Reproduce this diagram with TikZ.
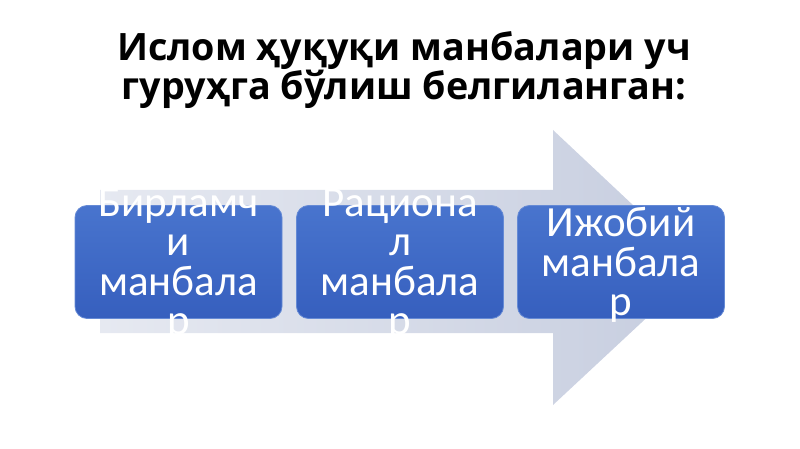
\documentclass[tikz,border=0pt]{standalone}
\usepackage{fontspec}
\setmainfont{Open Sans}
\newfontfamily\boxfont{Carlito}

\definecolor{arrowlight}{HTML}{E6E9F1}
\definecolor{arrowdark}{HTML}{C6CDDF}
\definecolor{srcblue}{HTML}{3F6DCB}
\definecolor{srcblueb}{HTML}{365FBE}

\tikzset{
  srcbox/.style={rounded corners=12pt, top color=srcblue!95!white, bottom color=srcblueb,
    draw=srcblue!80!white, line width=0.8pt, minimum width=207pt, minimum height=113pt},
  srctext/.style={text=white, align=center, font=\boxfont\fontsize{43}{39.5}\selectfont},
}

\begin{document}
\begin{tikzpicture}[x=1pt, y=-1pt]
  \useasboundingbox (0,0) rectangle (800,449);

  \node[font=\bfseries\fontsize{37.7}{37}\selectfont, align=center] (title) at (404,70)
    {Ислом ҳуқуқи манбалари уч\\гуруҳга бўлиш белгиланган:};

  % big arrow behind the boxes
  \shade[left color=arrowlight, right color=arrowdark]
    (100,190) -- (553,190) -- (553,130) -- (700,268) -- (553,405) -- (553,333) -- (100,333) -- cycle;

  \node[srcbox] (b1) at (178.5,262) {};
  \node[srcbox] (b2) at (400,262) {};
  \node[srcbox] (b3) at (621,262) {};

  \node[srctext] (t1) at ([yshift=-3pt]b1.center) {Бирламч\\и\\манбала\\р};
  \node[srctext] (t2) at ([yshift=-3pt]b2.center) {Рациона\\л\\манбала\\р};
  \node[srctext] (t3) at ([yshift=-3pt]b3.center) {Ижобий\\манбала\\р};
\end{tikzpicture}
\end{document}
